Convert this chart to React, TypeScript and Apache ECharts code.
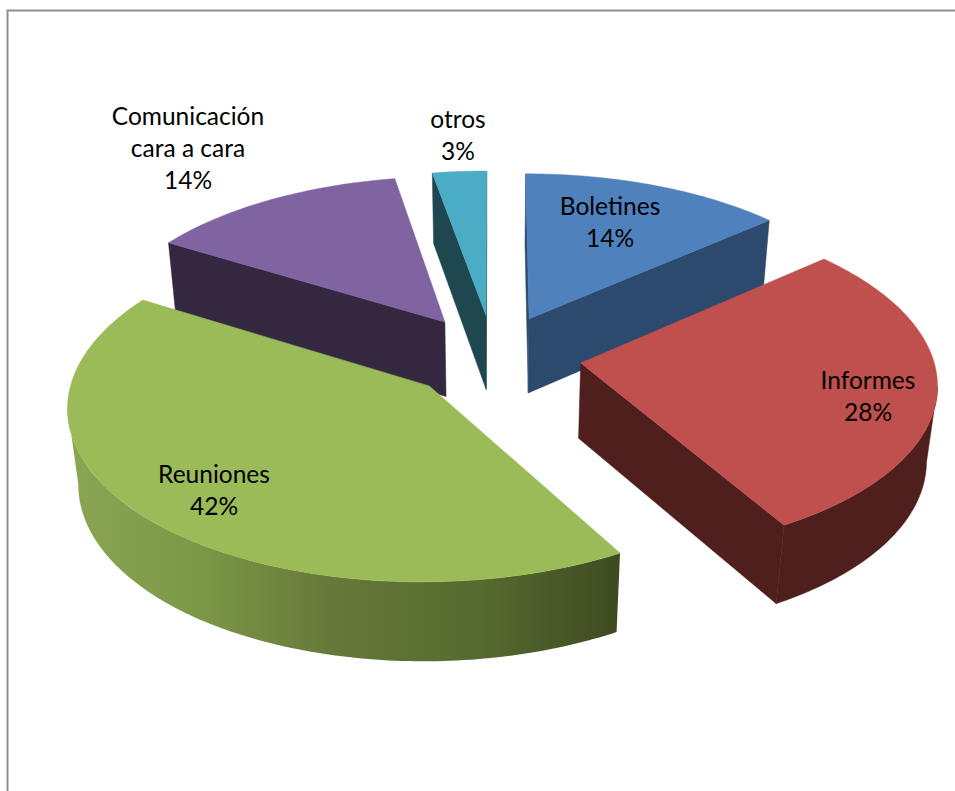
import React, { useEffect, useRef } from "react";
import * as echarts from "echarts";

const categories = ["Boletines", "Informes", "Reuniones", "Comunicación\ncara a cara", "otros"];
const values = [13.6, 28.1, 42.0, 13.5, 2.8];
const topColors = ["#4f81bd", "#c0504d", "#9bbb59", "#8064a2", "#4bacc6"];
const sideColors = ["#2c4a6e", "#4f1f1e", "#3e4a20", "#33283f", "#1e474f"];
const paintOrder = [1, 2, 3, 1, 1];
const labelCentres = [
  [610, 221],
  [868, 395],
  [214, 489],
  [188, 147],
  [458, 134],
];
const shadedWall = [
  { offset: 0, color: "#8aa552" },
  { offset: 0.25, color: "#7b9646" },
  { offset: 0.47, color: "#66793a" },
  { offset: 0.75, color: "#556a2f" },
  { offset: 1, color: "#3e4a20" },
];
const shadedSlice = 2;

// Projection of the 3D pie onto the page
const VX = 493.5, VY = 356, SCALE_X = 352, SCALE_Y = 168, DEPTH = 77;
const PERSPECTIVE = 0.1076, DEPTH_PERSPECTIVE = 0.025, EXPLODE = 0.25, ARC_STEP = 1;
const WALL_LEFT = 70, WALL_RIGHT = 620;

const project = (X: number, Y: number, Z: number) => {
  const w = 1 - PERSPECTIVE * Y + DEPTH_PERSPECTIVE * Z;
  return [VX + (SCALE_X * X) / w, VY + (SCALE_Y * Y + DEPTH * Z) / w];
};

const shoelace = (pts: number[][]) => {
  let s = 0;
  pts.forEach((p, i) => {
    const q = pts[(i + 1) % pts.length];
    s += p[0] * q[1] - q[0] * p[1];
  });
  return s;
};

const total = values.reduce((a, b) => a + b, 0);

function sliceAngles(index: number) {
  let before = 0;
  for (let i = 0; i < index; i++) before += values[i];
  return [(before / total) * 360, ((before + values[index]) / total) * 360];
}

function renderSlice(params: any, api: any) {
  const i = params.dataIndex;
  const value = api.value(0);
  const [a0, a1] = sliceAngles(i);
  const rad = (d: number) => (d * Math.PI) / 180;
  const mid = rad((a0 + a1) / 2);
  const cx = EXPLODE * Math.sin(mid);
  const cy = -EXPLODE * Math.cos(mid);
  const rim = (deg: number, z: number) =>
    project(cx + Math.sin(rad(deg)), cy - Math.cos(rad(deg)), z);
  const arc = (from: number, to: number, z: number) => {
    const out: number[][] = [];
    const n = Math.max(1, Math.ceil((to - from) / ARC_STEP));
    for (let k = 0; k <= n; k++) out.push(rim(from + ((to - from) * k) / n, z));
    return out;
  };
  const apexT = project(cx, cy, 0);
  const apexB = project(cx, cy, 1);
  const z2 = paintOrder[i];
  const side = sideColors[i];
  const children: any[] = [];
  const wall = (points: number[][], fill: any, stroke: any) =>
    children.push({
      type: "polygon",
      z2,
      shape: { points },
      style: { fill, stroke, lineWidth: 0.5 },
    });

  const startFace = [apexT, rim(a0, 0), rim(a0, 1), apexB];
  const endFace = [apexT, rim(a1, 0), rim(a1, 1), apexB];
  if (shoelace(startFace) < 0) wall(startFace, side, side);
  if (shoelace(endFace) > 0) wall(endFace, side, side);

  const f0 = Math.max(a0, 90);
  const f1 = Math.min(a1, 270);
  if (f1 > f0) {
    const up = arc(f0, f1, 0);
    const down = arc(f0, f1, 1);
    let lo = 0;
    let hi = 0;
    up.forEach((p, k) => {
      if (p[0] > up[lo][0]) lo = k;
      if (p[0] < up[hi][0]) hi = k;
    });
    const points = [...up.slice(lo, hi + 1), ...down.slice(lo, hi + 1).reverse()];
    if (i === shadedSlice) {
      const fill = new echarts.graphic.LinearGradient(WALL_LEFT, 0, WALL_RIGHT, 0, shadedWall, true);
      wall(points, fill, "none");
    } else {
      wall(points, side, side);
    }
  }

  children.push({
    type: "polygon",
    z2: z2 + 0.5,
    shape: { points: [apexT, ...arc(a0, a1, 0)] },
    style: { fill: topColors[i], stroke: topColors[i], lineWidth: 0.5 },
  });

  children.push({
    type: "text",
    z2: 100,
    style: {
      text: `${categories[i]}\n${Math.round(value)}%`,
      x: labelCentres[i][0],
      y: labelCentres[i][1],
      align: "center",
      verticalAlign: "middle",
      fill: "#000000",
      fontFamily: "Lato",
      fontSize: 24.5,
      lineHeight: 32,
    },
  });
  return { type: "group", children };
}

export default function App() {
  const ref = useRef<HTMLDivElement>(null);
  useEffect(() => {
    const chart = echarts.init(ref.current!, null, { renderer: "svg" });
    chart.setOption({
      animation: false,
      backgroundColor: "#ffffff",
      graphic: [
        {
          type: "polyline",
          shape: { points: [[7.5, 791], [7.5, 10.5], [955, 10.5]] },
          style: { fill: "none", stroke: "#8f8f8f", lineWidth: 2 },
        },
      ],
      series: [
        {
          type: "custom",
          coordinateSystem: "none",
          renderItem: renderSlice,
          data: values,
          clip: false,
        },
      ],
    });
    return () => chart.dispose();
  }, []);
  return (
    <div
      ref={ref}
      style={{ position: "fixed", left: 0, top: 0, width: 955, height: 791 }}
    />
  );
}
